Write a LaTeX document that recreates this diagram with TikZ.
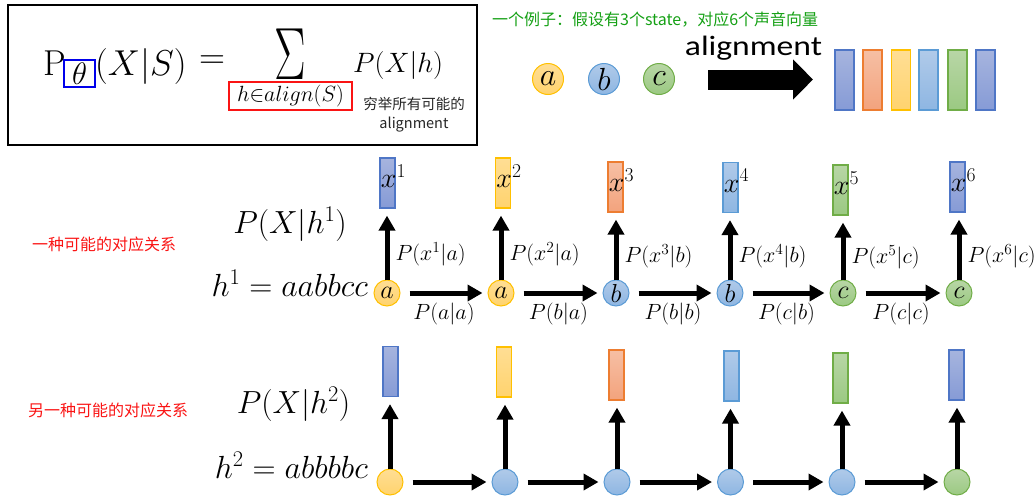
\RequirePackage{fix-cm}
\documentclass[tikz,border=0pt]{standalone}
\usepackage{fontspec}
\newfontfamily\cjk{Noto Sans CJK SC}
\newfontfamily\calib{Carlito}
\usepackage{tikz}
\usetikzlibrary{arrows.meta}

\definecolor{egreen}{RGB}{20,160,20}
\definecolor{ered}{RGB}{250,20,20}
\definecolor{tblue}{RGB}{0,0,235}
\definecolor{dbD}{RGB}{79,118,198}\definecolor{dbT}{RGB}{166,180,222}\definecolor{dbB}{RGB}{134,155,214}
\definecolor{orD}{RGB}{237,125,49}\definecolor{orT}{RGB}{246,191,164}\definecolor{orB}{RGB}{243,163,125}
\definecolor{yeD}{RGB}{255,192,0}\definecolor{yeT}{RGB}{255,222,148}\definecolor{yeB}{RGB}{255,211,110}
\definecolor{lbD}{RGB}{91,155,213}\definecolor{lbT}{RGB}{176,202,233}\definecolor{lbB}{RGB}{142,182,226}
\definecolor{grD}{RGB}{112,173,71}\definecolor{grT}{RGB}{184,214,166}\definecolor{grB}{RGB}{155,201,130}

\newcommand{\fsz}[1]{\fontsize{#1}{#1}\selectfont}

\tikzset{
  cdb/.style={draw=dbD, top color=dbT, bottom color=dbB},
  cor/.style={draw=orD, top color=orT, bottom color=orB},
  cye/.style={draw=yeD, top color=yeT, bottom color=yeB},
  clb/.style={draw=lbD, top color=lbT, bottom color=lbB},
  cgr/.style={draw=grD, top color=grT, bottom color=grB},
  vbar/.style={rectangle, minimum width=15pt, minimum height=50pt, inner sep=0pt, line width=1.2pt},
  obar/.style={vbar, minimum width=19pt, minimum height=60pt},
  st/.style={circle, minimum size=26pt, inner sep=0pt, line width=1pt, font=\fsz{26}},
  ost/.style={st, minimum size=31pt, font=\fsz{32}},
  harr/.style={line width=5pt, -{Triangle[length=15pt,width=16pt]}, shorten <=9pt, shorten >=5pt},
  varr/.style={line width=5pt, -{Triangle[length=15pt,width=16pt]}, shorten >=7pt},
  lbl/.style={font=\fsz{22}, inner sep=1pt},
  hl/.style={lbl, below=6pt},
  vl/.style={lbl, right=5pt, pos=.35},
  xl/.style={font=\fsz{28}, inner sep=0pt, anchor=base},
  note/.style={font=\cjk\fsz{16}, inner sep=0pt, anchor=west},
}

\begin{document}
\begin{tikzpicture}[x=1pt,y=-1pt]
  \useasboundingbox (0,0) rectangle (1036,499);

  \draw[line width=2pt] (8,5) rectangle (477,145);
      \draw (66,75) node[anchor=base east, inner sep=0pt, font=\fsz{36}] (pP) {$\mathrm{P}$};
      \draw (79.5,73.5) node[draw=tblue, line width=2.5pt, minimum width=31pt, minimum height=27pt, inner sep=0pt, font=\fsz{31}] (theta) {$\theta$};
      \draw (95,75) node[anchor=base west, inner sep=0pt, font=\fsz{36}] (pXS) {$(X|S)$};
      \draw (212,62) node[inner sep=0pt, font=\fsz{36}] (eq) {$=$};
      \draw (290.5,79) node[anchor=base, inner sep=0pt, xscale=.64, font=\fsz{74}] (sum) {$\Sigma$};
      \draw (353,72) node[anchor=base west, inner sep=0pt, font=\fsz{28}] (pXh) {$P(X|h)$};
      \draw (290.5,96) node[draw=ered, line width=2.5pt, minimum width=123pt, minimum height=28pt, inner sep=0pt, font=\fsz{22}] (hset) {$h{\in}align(S)$};
      \draw (414,115) node[align=center, inner sep=0pt, text=black!85, font=\cjk\fontsize{14.5}{19}\selectfont] (enum) {穷举所有可能的\\alignment};

  \draw (492,20) node[note, text=egreen] (ex) {一个例子：假设有3个state，对应6个声音向量};
  \draw (548,79) node[ost,cye] (sa) {$a$};
  \draw (604,79) node[ost,clb] (sb) {$b$};
  \draw (659,79) node[ost,cgr] (sc) {$c$};
  \draw (753.5,55) node[anchor=base, inner sep=0pt, xscale=1.2, font=\calib\fsz{28}] (altxt) {alignment};
  \coordinate (al-s) at (708,79.5);
  \coordinate (al-e) at (813,79.5);
  \draw[line width=20pt, -{Triangle[length=20pt,width=39pt]}] (al-s) -- (al-e);
  \draw (844.5,80) node[obar,cdb] (v1) {};
  \draw (872.5,80) node[obar,cor] (v2) {};
  \draw (901,80) node[obar,cye] (v3) {};
  \draw (928.5,80) node[obar,clb] (v4) {};
  \draw (957.5,80) node[obar,cgr] (v5) {};
  \draw (985.5,80) node[obar,cdb] (v6) {};

  \draw (32,244) node[note, text=ered] (one) {一种可能的对应关系};
  \draw (290,224) node[font=\fsz{32}] (pX1) {$P(X|h^1)$};
  \draw (368,296) node[anchor=base east, inner sep=0pt, font=\fsz{32}] (h1) {$h^1=aabbcc$};

      \draw (387,293) node[st,cye] (a1) {$a$};
      \draw (501,293) node[st,cye] (a2) {$a$};
      \draw (616,293) node[st,clb] (a3) {$b$};
      \draw (730,293) node[st,clb] (a4) {$b$};
      \draw (843,293) node[st,cgr] (a5) {$c$};
      \draw (959,293) node[st,cgr] (a6) {$c$};

      \draw (387.5,183) node[vbar,cdb] (x1) {};
      \draw (503,183) node[vbar,cye] (x2) {};
      \draw (615.5,187) node[vbar,cor] (x3) {};
      \draw (730.5,187.5) node[vbar,clb] (x4) {};
      \draw (840.5,190) node[vbar,cgr] (x5) {};
      \draw (957.5,187) node[vbar,cdb] (x6) {};

      \draw ([xshift=6pt,yshift=-4.5pt]x1.center) node[xl] {$x^{1}$};
      \draw ([xshift=6pt,yshift=-4.5pt]x2.center) node[xl] {$x^{2}$};
      \draw ([xshift=6pt,yshift=-4.5pt]x3.center) node[xl] {$x^{3}$};
      \draw ([xshift=6pt,yshift=-4.5pt]x4.center) node[xl] {$x^{4}$};
      \draw ([xshift=6pt,yshift=-4.5pt]x5.center) node[xl] {$x^{5}$};
      \draw ([xshift=6pt,yshift=-4.5pt]x6.center) node[xl] {$x^{6}$};

      \path[varr] (a1) edge node[vl] {$P(x^1|a)$} (a1 |- x1.south);
      \path[varr] (a2) edge node[vl] {$P(x^2|a)$} (a2 |- x2.south);
      \path[varr] (a3) edge node[vl] {$P(x^3|b)$} (a3 |- x3.south);
      \path[varr] (a4) edge node[vl] {$P(x^4|b)$} (a4 |- x4.south);
      \path[varr] (a5) edge node[vl] {$P(x^5|c)$} (a5 |- x5.south);
      \path[varr] (a6) edge node[vl] {$P(x^6|c)$} (a6 |- x6.south);

      \path[harr] (a1) edge node[hl] {$P(a|a)$} (a2);
      \path[harr] (a2) edge node[hl] {$P(b|a)$} (a3);
      \path[harr] (a3) edge node[hl] {$P(b|b)$} (a4);
      \path[harr] (a4) edge node[hl] {$P(c|b)$} (a5);
      \path[harr] (a5) edge node[hl] {$P(c|c)$} (a6);

  \draw (28,410) node[note, text=ered] (two) {另一种可能的对应关系};
  \draw (293.5,404) node[font=\fsz{32}] (pX2) {$P(X|h^2)$};
  \draw (368,478) node[anchor=base east, inner sep=0pt, font=\fsz{32}] (h2) {$h^2=abbbbc$};

      \draw (390,482) node[st,cye] (b1) {};
      \draw (505,482) node[st,clb] (b2) {};
      \draw (617,482) node[st,clb] (b3) {};
      \draw (730.5,482) node[st,clb] (b4) {};
      \draw (842,482) node[st,clb] (b5) {};
      \draw (957,482) node[st,cgr] (b6) {};

      \draw (390.5,371.5) node[vbar,cdb] (y1) {};
      \draw (504,372) node[vbar,cye] (y2) {};
      \draw (616.5,375) node[vbar,cor] (y3) {};
      \draw (731.5,376) node[vbar,clb] (y4) {};
      \draw (840.5,378) node[vbar,cgr] (y5) {};
      \draw (956.5,375) node[vbar,cdb] (y6) {};

      \path[varr] (b1) edge (b1 |- y1.south);
      \path[varr] (b2) edge (b2 |- y2.south);
      \path[varr] (b3) edge (b3 |- y3.south);
      \path[varr] (b4) edge (b4 |- y4.south);
      \path[varr] (b5) edge (b5 |- y5.south);
      \path[varr] (b6) edge (b6 |- y6.south);

      \path[harr] (b1) edge (b2);
      \path[harr] (b2) edge (b3);
      \path[harr] (b3) edge (b4);
      \path[harr] (b4) edge (b5);
      \path[harr] (b5) edge (b6);
\end{tikzpicture}
\end{document}
